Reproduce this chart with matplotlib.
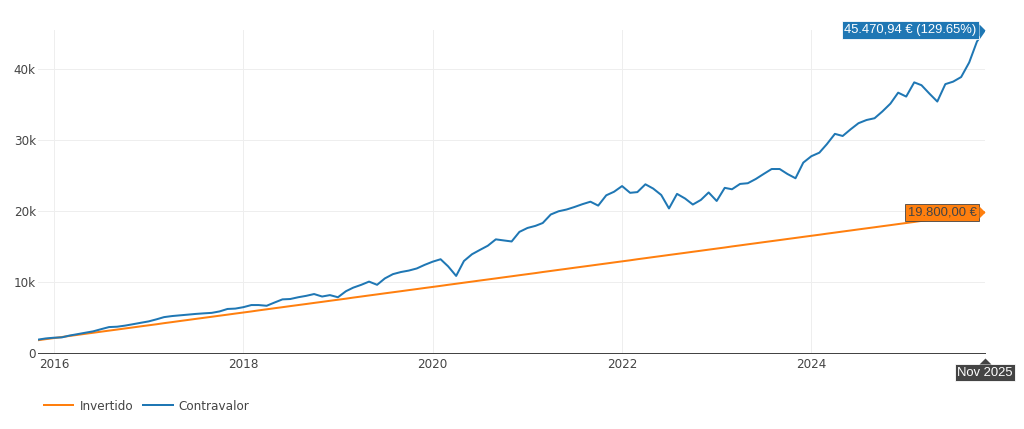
import matplotlib
matplotlib.use('Agg')
import matplotlib.pyplot as plt
import matplotlib.dates as mdates
from matplotlib.path import Path
from matplotlib.ticker import FuncFormatter
import pandas as pd

plt.rcParams['font.family'] = ['DejaVu Sans']

# monthly data, Nov 2015 .. Nov 2025
first_month = '2015-11-01'
invertido = [
    1800, 1950, 2100, 2250, 2400, 2550, 2700, 2850, 3000, 3150,
    3300, 3450, 3600, 3750, 3900, 4050, 4200, 4350, 4500, 4650,
    4800, 4950, 5100, 5250, 5400, 5550, 5700, 5850, 6000, 6150,
    6300, 6450, 6600, 6750, 6900, 7050, 7200, 7350, 7500, 7650,
    7800, 7950, 8100, 8250, 8400, 8550, 8700, 8850, 9000, 9150,
    9300, 9450, 9600, 9750, 9900, 10050, 10200, 10350, 10500, 10650,
    10800, 10950, 11100, 11250, 11400, 11550, 11700, 11850, 12000, 12150,
    12300, 12450, 12600, 12750, 12900, 13050, 13200, 13350, 13500, 13650,
    13800, 13950, 14100, 14250, 14400, 14550, 14700, 14850, 15000, 15150,
    15300, 15450, 15600, 15750, 15900, 16050, 16200, 16350, 16500, 16650,
    16800, 16950, 17100, 17250, 17400, 17550, 17700, 17850, 18000, 18150,
    18300, 18450, 18600, 18750, 18900, 19050, 19200, 19350, 19500, 19650,
    19800,
]
contravalor = [
    1880, 2050, 2150, 2200, 2450, 2650, 2850, 3050, 3350, 3650,
    3700, 3850, 4050, 4250, 4450, 4750, 5050, 5200, 5300, 5400,
    5500, 5580, 5650, 5850, 6200, 6250, 6450, 6750, 6750, 6650,
    7100, 7550, 7600, 7850, 8050, 8300, 7950, 8150, 7850, 8700,
    9200, 9600, 10050, 9600, 10500, 11100, 11400, 11600, 11900, 12400,
    12850, 13200, 12200, 10850, 12950, 13900, 14500, 15100, 16000, 15850,
    15700, 17050, 17600, 17900, 18300, 19500, 19950, 20200, 20550, 20950,
    21300, 20750, 22200, 22700, 23500, 22550, 22650, 23750, 23150, 22250,
    20350, 22400, 21750, 20900, 21550, 22600, 21400, 23250, 23050, 23800,
    23900, 24500, 25200, 25900, 25900, 25200, 24600, 26800, 27700, 28200,
    29400, 30850, 30550, 31500, 32350, 32800, 33050, 34000, 35100, 36650,
    36100, 38100, 37700, 36500, 35400, 37850, 38200, 38850, 40900, 43850,
    45470.94,
]
dates = pd.date_range(first_month, periods=len(contravalor), freq='MS')

BLUE = '#1f77b4'
ORANGE = '#ff7f0e'
GREY = '#444444'
W, H = 1024, 429
PT = 0.72  # points per pixel at dpi 100

fig = plt.figure(figsize=(W / 100, H / 100), dpi=100)
ax = fig.add_axes([38 / W, 1 - 353 / H, (985 - 38) / W, (353 - 30) / H])

ax.plot(dates, invertido, color=ORANGE, lw=2 * PT, label='Invertido', zorder=3)
ax.plot(dates, contravalor, color=BLUE, lw=2 * PT, label='Contravalor', zorder=4)

ax.set_xlim(dates[0], dates[-1])
ax.set_ylim(0, max(contravalor))
ax.xaxis.set_major_locator(mdates.YearLocator(2))
ax.xaxis.set_major_formatter(mdates.DateFormatter('%Y'))
ax.set_yticks([0, 10000, 20000, 30000, 40000])
ax.yaxis.set_major_formatter(FuncFormatter(lambda v, p: '0' if v == 0 else f'{v / 1000:.0f}k'))
ax.grid(True, color='#eeeeee', lw=1 * PT, zorder=0)
ax.set_axisbelow(True)
for s in ax.spines.values():
    s.set_visible(False)
ax.axhline(0, color=GREY, lw=1 * PT, clip_on=False, zorder=2)
ax.tick_params(length=0, labelsize=12 * PT, labelcolor=GREY)
ax.tick_params(axis='x', pad=3.5)
ax.tick_params(axis='y', pad=1.5)


def eur(v):
    s = f'{v:,.2f}'
    return s.replace(',', '#').replace('.', ',').replace('#', '.') + ' €'


def arrow_marker(direction):
    if direction == 'left':
        verts = [(0, 0), (-1, 1), (-1, -1), (0, 0)]
    else:  # box below, arrow pointing up
        verts = [(0, 0), (1, -1), (-1, -1), (0, 0)]
    return Path(verts)


def hover_label(x, y, text, bg, fg, where='left'):
    fs = 13 * PT
    pad = 0.2
    gap = 6 * PT + pad * fs
    if where == 'left':
        xyt, ha, va = (-gap, 0), 'right', 'center'
    else:
        xyt, ha, va = (0, -gap - 5 * PT), 'center', 'top'
    ax.annotate(text, xy=(x, y), xytext=xyt, textcoords='offset points',
                ha=ha, va=va, fontsize=fs, color=fg, zorder=10,
                family=['Liberation Sans', 'DejaVu Sans'], annotation_clip=False,
                bbox=dict(boxstyle=f'square,pad={pad}', fc=bg, ec=fg, lw=0.6))
    off = 0 if where == 'left' else -5
    ax.plot([x], [y], marker=arrow_marker(where), ms=12 * PT, mfc=bg, mec='none',
            ls='none', clip_on=False, zorder=11,
            transform=ax.transData + matplotlib.transforms.ScaledTranslation(0, off / 100, fig.dpi_scale_trans))


pct = (contravalor[-1] / invertido[-1] - 1) * 100
hover_label(dates[-1], contravalor[-1], f'{eur(contravalor[-1])} ({pct:.2f}%)', BLUE, 'white')
hover_label(dates[-1], invertido[-1], eur(invertido[-1]), ORANGE, GREY)
hover_label(dates[-1], 0, dates[-1].strftime('%b %Y'), GREY, 'white', where='below')

fig.legend(loc='center left', bbox_to_anchor=(44 / W, 1 - 406 / H), ncol=2, frameon=False,
           fontsize=12 * PT, handlelength=2.45, handletextpad=0.5, columnspacing=0.85,
           borderpad=0, borderaxespad=0, labelcolor=GREY)

fig.savefig('out.png', dpi=100)
